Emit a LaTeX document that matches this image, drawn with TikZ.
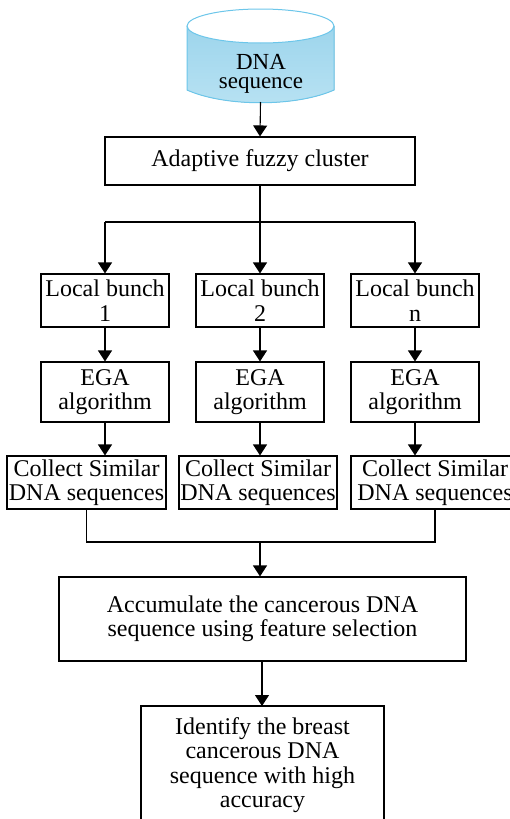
\documentclass[tikz,border=0pt]{standalone}
\usepackage{fontspec}
\setmainfont{Liberation Serif}
\usetikzlibrary{arrows.meta}
\definecolor{cylline}{HTML}{6CC6EA}
\definecolor{cyltop}{HTML}{9DD5EC}
\definecolor{cylbot}{HTML}{B8E2F3}
\begin{document}
\begin{tikzpicture}[x=1pt,y=-1pt,
  box/.style={draw, line width=1.1pt, align=center, inner sep=0pt, font=\fontsize{24}{24.5}\selectfont},
  arr/.style={line width=1.1pt, -{Triangle[width=14pt,length=11pt]}},
  ln/.style={line width=1.1pt}]
\useasboundingbox (0,0) rectangle (509,819);
% cylinder
\fill[top color=cyltop, bottom color=cylbot] (187,26) -- (187,90) .. controls (225,107) and (296,107) .. (334,90) -- (334,26) -- cycle;
\draw[cylline, line width=1pt] (187,26) -- (187,90) .. controls (225,107) and (296,107) .. (334,90) -- (334,26);
\filldraw[fill=white, draw=cylline, line width=1pt] (260.5,26) ellipse [x radius=73.5, y radius=17];
\node[align=center, inner sep=0pt, font=\fontsize{23}{19.5}\selectfont] (dna) at (261,74) {DNA\\sequence};
\coordinate (dnab) at (260.5,102);
% boxes
\node[box, minimum width=310pt, minimum height=48pt] (ad) at (260,161) {Adaptive fuzzy cluster};
\node[box, minimum width=128pt, minimum height=53pt] (l1) at (105,300.5) {Local bunch\\1};
\node[box, minimum width=128pt, minimum height=53pt] (l2) at (260,300.5) {Local bunch\\2};
\node[box, minimum width=128pt, minimum height=53pt] (l3) at (415,300.5) {Local bunch\\n};
\node[box, minimum width=128pt, minimum height=60pt] (e1) at (105,392) {EGA\\algorithm};
\node[box, minimum width=128pt, minimum height=60pt] (e2) at (260,392) {EGA\\algorithm};
\node[box, minimum width=128pt, minimum height=60pt] (e3) at (415,392) {EGA\\algorithm};
\node[box, minimum width=159pt, minimum height=53pt] (c1) at (86.5,482.5) {Collect Similar\\DNA sequences};
\node[box, minimum width=158pt, minimum height=53pt] (c2) at (258,482.5) {Collect Similar\\DNA sequences};
\node[box, minimum width=168pt, minimum height=53pt] (c3) at (435,482.5) {Collect Similar\\DNA sequences};
\node[box, minimum width=407pt, minimum height=84pt] (acc) at (262.5,619) {Accumulate the cancerous DNA\\sequence using feature selection};
\node[box, minimum width=243pt, minimum height=118pt] (idf) at (262.5,765) {Identify the breast\\cancerous DNA\\sequence with high\\accuracy};
% connectors
\draw[arr] (dnab) -- (ad.north);
\coordinate (split) at (260,222);
\draw[ln] (ad.south) -- (split);
\draw[ln] (split -| l1.north) -- (split -| l3.north);
\draw[arr] (split -| l1.north) -- (l1.north);
\draw[arr] (split) -- (l2.north);
\draw[arr] (split -| l3.north) -- (l3.north);
\draw[arr] (l1) -- (e1);
\draw[arr] (l2) -- (e2);
\draw[arr] (l3) -- (e3);
\draw[arr] (e1.south) -- (e1.south |- c1.north);
\draw[arr] (e2.south) -- (e2.south |- c2.north);
\draw[arr] (e3.south) -- (e3.south |- c3.north);
\coordinate (merge) at (260,542);
\draw[ln] (c1.south) |- (merge) -| (c3.south);
\draw[arr] (merge) -- (merge |- acc.north);
\draw[arr] (262,661) -- (262,706);
\end{tikzpicture}
\end{document}
